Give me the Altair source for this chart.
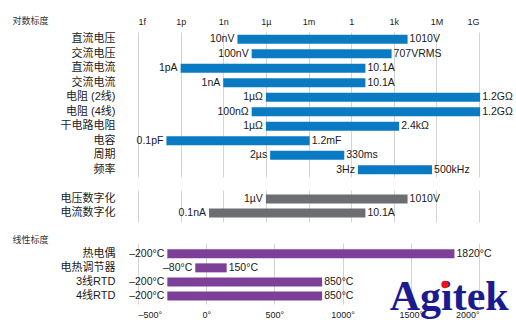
import altair as alt
import pandas as pd

# ---------------- data ----------------
log_rows = ["直流电压", "交流电压", "直流电流", "交流电流", "电阻 (2线)", "电阻 (4线)",
            "干电路电阻", "电容", "周期", "频率"]
log_lo = [1e-8, 1e-7, 1e-12, 1e-9, 1e-6, 1e-7, 1e-6, 1e-13, 2e-6, 3]
log_hi = [9400, 707, 10.1, 10.1, 1.2e9, 1.2e9, 2400, 1.2e-3, 0.33, 5e5]
log_lo_text = ["10nV", "100nV", "1pA", "1nA", "1µΩ", "100nΩ", "1µΩ", "0.1pF", "2µs", "3Hz"]
log_hi_text = ["1010V", "707VRMS", "10.1A", "10.1A", "1.2GΩ", "1.2GΩ", "2.4kΩ", "1.2mF", "330ms", "500kHz"]

dig_rows = ["电压数字化", "电流数字化"]
dig_lo = [1e-6, 1e-10]
dig_hi = [9400, 10.1]
dig_lo_text = ["1µV", "0.1nA"]
dig_hi_text = ["1010V", "10.1A"]

lin_rows = ["热电偶", "电热调节器", "3线RTD", "4线RTD"]
lin_lo = [-285, -80, -285, -285]
lin_hi = [1820, 150, 850, 850]
lin_lo_text = ["–200°C", "–80°C", "–200°C", "–200°C"]
lin_hi_text = ["1820°C", "150°C", "850°C", "850°C"]

log_ticks = [1e-15, 1e-12, 1e-9, 1e-6, 1e-3, 1, 1e3, 1e6, 1e9]
lin_ticks = [-500, 0, 500, 1000, 1500, 2000]

FONT = "Liberation Sans, Noto Sans CJK SC"
TXT = "#1a1a1a"
GRID = "#d4d4d4"

def frame(rows, lo, hi, lo_t, hi_t):
    return pd.DataFrame({"row": rows, "lo": lo, "hi": hi, "lo_text": lo_t, "hi_text": hi_t})

log_scale = alt.Scale(type="log", domain=[1e-15, 1e9], nice=False)
lin_scale = alt.Scale(domain=[-500, 2000], nice=False)

log_label_expr = "['1f','1p','1n','1µ','1m','1','1k','1M','1G'][round(log(datum.value)/LN10/3)+5]"
lin_label_expr = "(datum.value < 0 ? '–' + (-datum.value) : '' + datum.value) + '°'"


def panel(df, scale, color, height, xaxis, ytitle=None, title_y=0, pad_outer=0.0, align=0.5):
    if ytitle:
        yaxis = alt.Axis(domain=False, ticks=False, labelPadding=23, labelFontSize=11,
                         labelColor=TXT, title=ytitle, titleAngle=0, titleAlign="left",
                         titleBaseline="top", titleX=-126, titleY=title_y,
                         titleFontSize=9, titleFontWeight="normal", titleColor="#333333")
    else:
        yaxis = alt.Axis(domain=False, ticks=False, labelPadding=23, labelFontSize=11,
                         labelColor=TXT, title=None)
    y = alt.Y("row:N", sort=list(df["row"]), axis=yaxis,
              scale=alt.Scale(paddingInner=0, paddingOuter=pad_outer, align=align))
    base = alt.Chart(df).encode(y=y)
    bars = base.mark_bar(color=color, size=9).encode(
        x=alt.X("lo:Q", scale=scale, axis=xaxis), x2="hi:Q")
    left = base.mark_text(align="right", dx=-3, fontSize=10.5, color=TXT).encode(
        x=alt.X("lo:Q", scale=scale, axis=xaxis), text="lo_text:N")
    right = base.mark_text(align="left", dx=2, fontSize=10.5, color=TXT).encode(
        x=alt.X("hi:Q", scale=scale, axis=xaxis), text="hi_text:N")
    return alt.layer(bars, left, right).properties(width=341, height=height)


axis_a = alt.Axis(orient="top", values=log_ticks, labelExpr=log_label_expr, domain=False,
                  ticks=False, grid=True, gridColor=GRID, labelFontSize=9, labelPadding=6,
                  labelColor=TXT, title=None)
axis_b = alt.Axis(orient="top", values=log_ticks, labels=False, domain=False, ticks=False,
                  grid=True, gridColor=GRID, title=None)
axis_c = alt.Axis(orient="bottom", values=lin_ticks, labelExpr=lin_label_expr, domain=False,
                  ticks=False, grid=True, gridColor=GRID, labelFontSize=9, labelPadding=6,
                  labelColor=TXT, title=None)

pa = panel(frame(log_rows, log_lo, log_hi, log_lo_text, log_hi_text), log_scale, "#0A7BC2",
           145, axis_a, ytitle="对数标度", title_y=-16)
pb = panel(frame(dig_rows, dig_lo, dig_hi, dig_lo_text, dig_hi_text), log_scale, "#6D6E71",
           32, axis_b, pad_outer=0.15)
pc = panel(frame(lin_rows, lin_lo, lin_hi, lin_lo_text, lin_hi_text), lin_scale, "#7E3F98",
           61, axis_c, ytitle="线性标度", title_y=-8, pad_outer=0.17, align=0.79)

logo_df = pd.DataFrame({"logo": ["Agitek"]})
logo = alt.Chart(logo_df).mark_text(align="left", baseline="alphabetic", font="Liberation Serif",
                                    fontWeight="bold", fontSize=42, color="#1B1B8F").encode(
    x=alt.value(251.7), y=alt.value(66.7), text="logo:N")
dot = alt.Chart(logo_df).mark_point(filled=True, color="#E8141B", opacity=1, size=55).encode(
    x=alt.value(307), y=alt.value(41.5))
pc = alt.layer(pc, logo, dot)

chart = alt.vconcat(pa, pb, pc, spacing=13).properties(
    padding={"left": 12, "top": 16, "right": 0, "bottom": 0}
).configure(font=FONT).configure_view(stroke=None, strokeWidth=0)

chart.save("out.html", embed_options={"renderer": "svg", "actions": False})
